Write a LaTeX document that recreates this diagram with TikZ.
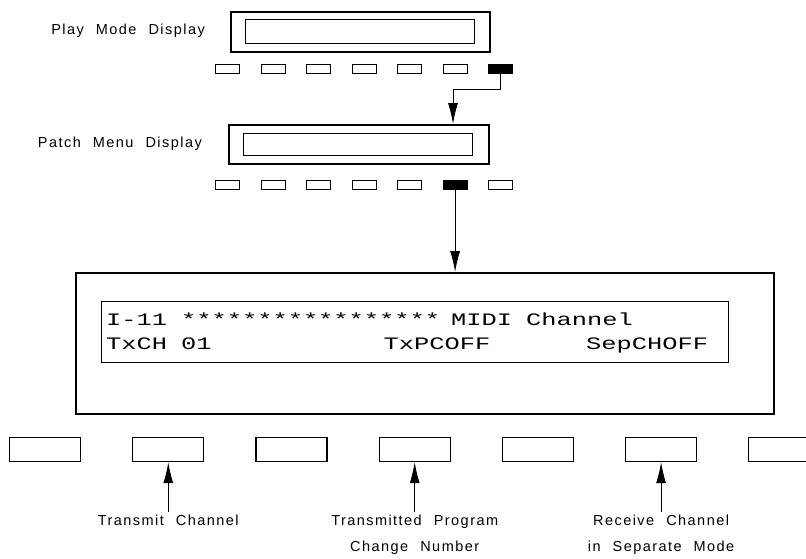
\documentclass[tikz,border=0pt]{standalone}
\usepackage{fontspec}
\usetikzlibrary{arrows.meta}
\newfontfamily\lblfont[LetterSpace=10,WordSpace=2.2]{Liberation Sans}
\newfontfamily\lcdfont[FakeStretch=1.45]{Liberation Mono}
\begin{document}
\begin{tikzpicture}[x=1pt,y=-1pt,
  outerbox/.style={draw, line width=1.5pt, inner sep=0pt, anchor=north west},
  innerbox/.style={draw, line width=1.1pt, inner sep=0pt, anchor=north west},
  smallbtn/.style={draw, line width=1.2pt, inner sep=0pt, anchor=north west, minimum width=24pt, minimum height=9pt},
  bigbtn/.style={draw, line width=1.2pt, inner sep=0pt, anchor=north west, minimum width=71pt, minimum height=24pt},
  arr/.style={line width=0.9pt, -{Latex[length=21pt,width=10pt]}},
  lbl/.style={inner sep=0pt, font={\lblfont\fontsize{14.5}{26}\selectfont}},
  lcd/.style={inner sep=0pt, anchor=base west, font={\lcdfont\fontsize{17.5}{20}\selectfont}}]
\useasboundingbox (0,0) rectangle (806,558);
\clip (0,0) rectangle (806,558);
% top labels
\node[lbl, anchor=base east] (lplay) at (205,34) {Play Mode Display};
\node[lbl, anchor=base east] (lpatch) at (202,147) {Patch Menu Display};
% display 1
\node[outerbox, minimum width=259pt, minimum height=40pt] (d1) at (230,11) {};
\node[innerbox, minimum width=229pt, minimum height=24pt] (d1i) at (245,19) {};
% display 2
\node[outerbox, minimum width=260pt, minimum height=39pt] (d2) at (228,124) {};
\node[innerbox, minimum width=229pt, minimum height=22pt] (d2i) at (243,133) {};
% small buttons
\foreach \k in {0,...,6} {
  \node[smallbtn] (b1-\k) at (215+45.5*\k,64) {};
  \node[smallbtn] (b2-\k) at (215+45.5*\k,180) {};
}
\node[smallbtn, fill=black] at (b1-6.north west) {};
\node[smallbtn, fill=black] at (b2-5.north west) {};
% big display
\node[outerbox, minimum width=698pt, minimum height=141pt] (big) at (75,272) {};
\node[innerbox, minimum width=627pt, minimum height=61pt] (bigi) at (101,301) {};
% LCD text
\node[lcd] (t1a) at (106+0*15,325) {I-11};
\node[lcd] (t1b) at (106+5*15,325) {*****************};
\node[lcd] (t1c) at (106+23*15,325) {MIDI};
\node[lcd] (t1d) at (106+28*15,325) {Channel};
\node[lcd] (t2a) at (106+0*15,349) {TxCH};
\node[lcd] (t2b) at (106+5*15,349) {01};
\node[lcd] (t2c) at (106+18.5*15,349) {TxPCOFF};
\node[lcd] (t2d) at (106+32*15,349) {SepCHOFF};
% bottom buttons
\foreach \k in {0,...,6} {
  \node[bigbtn] (b3-\k) at (9+123.2*\k,437) {};
}
% arrows top
\coordinate (bend) at (453,89);
\draw[arr] (b1-6.south) |- (bend) -- (bend |- d2.north);
\draw[arr] (b2-5.south) -- (b2-5.south |- big.north);
% bottom labels
\coordinate (lrow) at (0,512);
\node[lbl, anchor=north, inner sep=3pt] (l1) at (b3-1.south |- lrow) {Transmit Channel};
\node[lbl, anchor=north, inner sep=3pt, align=center] (l2) at (b3-3.south |- lrow) {Transmitted Program\\Change Number};
\node[lbl, anchor=north, inner sep=3pt, align=center] (l3) at (b3-5.south |- lrow) {Receive Channel\\in Separate Mode};
\draw[arr] (l1.north) -- (b3-1.south);
\draw[arr] (l2.north) -- (b3-3.south);
\draw[arr] (l3.north) -- (b3-5.south);
\end{tikzpicture}
\end{document}
